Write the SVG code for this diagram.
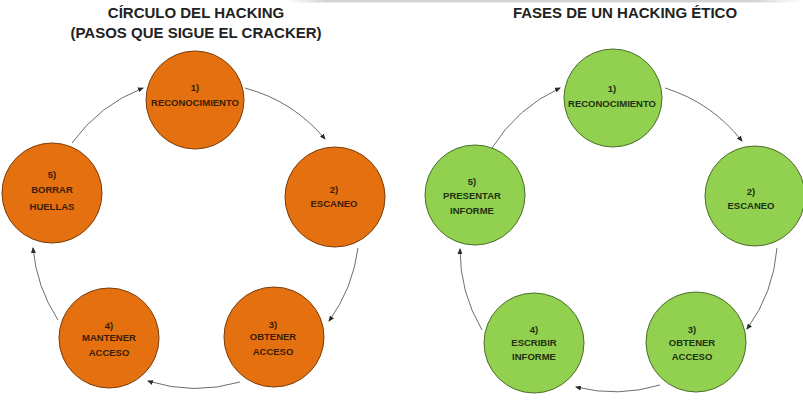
<svg xmlns="http://www.w3.org/2000/svg" width="803" height="409" viewBox="0 0 803 409">
  <defs>
    <marker id="arrow" markerUnits="userSpaceOnUse" markerWidth="6" markerHeight="5" refX="5" refY="2.5" orient="auto">
      <path d="M0,0 L6,2.5 L0,5 z" fill="#2b2b2b"/>
    </marker>
    <linearGradient id="topband" x1="0" y1="0" x2="1" y2="0">
      <stop offset="0" stop-color="#d4d4d4" stop-opacity="0"/>
      <stop offset="0.08" stop-color="#d4d4d4"/>
      <stop offset="0.9" stop-color="#d4d4d4"/>
      <stop offset="1" stop-color="#d4d4d4" stop-opacity="0"/>
    </linearGradient>
  </defs>
  <style>
    .title { font-family: "Liberation Sans", Arial, sans-serif; font-weight: bold; font-size: 15px; fill: #222; text-anchor: middle; }
    .lbl { font-family: "Liberation Sans", Arial, sans-serif; font-weight: bold; font-size: 9.5px; text-anchor: middle; }
    .orange circle { fill: #E5700F; stroke: #7a3d0c; stroke-width: 1; }
    .orange text { fill: #3a1c06; }
    .green circle { fill: #92D050; stroke: #4b6e2b; stroke-width: 1; }
    .green text { fill: #1e3110; }
    .conn path { fill: none; stroke: #6e6e6e; stroke-width: 1; marker-end: url(#arrow); }
  </style>

  <rect width="803" height="409" fill="#ffffff"/>
  <rect x="285" y="0" width="518" height="2.5" fill="url(#topband)"/>

  <!-- titles -->
  <text class="title" x="196" y="18">CÍRCULO DEL HACKING</text>
  <text class="title" x="196" y="38">(PASOS QUE SIGUE EL CRACKER)</text>
  <text class="title" x="625" y="18">FASES DE UN HACKING ÉTICO</text>

  <!-- cracker cycle connectors -->
  <g id="connectors-cracker" class="conn">
    <path d="M72,143 A158,158 0 0 1 143,88"/>
    <path d="M245,88 A158,158 0 0 1 325,139"/>
    <path d="M358,248 A158,158 0 0 1 329,321"/>
    <path d="M240,382 A158,158 0 0 1 148,381"/>
    <path d="M58,320 A158,158 0 0 1 33,248"/>
  </g>

  <!-- ethical hacking connectors -->
  <g id="connectors-ethical" class="conn">
    <path d="M492,148 A158,158 0 0 1 560,88"/>
    <path d="M665,88 A158,158 0 0 1 742,141"/>
    <path d="M777,248 A158,158 0 0 1 747,329"/>
    <path d="M660,385 A158,158 0 0 1 576,387"/>
    <path d="M482,330 A158,158 0 0 1 460,249"/>
  </g>

  <!-- cracker cycle nodes -->
  <g id="c1" class="orange">
    <circle cx="195" cy="100" r="49"/>
    <text class="lbl" x="195" y="91">1)</text>
    <text class="lbl" x="195" y="106">RECONOCIMIENTO</text>
  </g>
  <g id="c2" class="orange">
    <circle cx="335" cy="197" r="50"/>
    <text class="lbl" x="334" y="193">2)</text>
    <text class="lbl" x="334" y="207">ESCANEO</text>
  </g>
  <g id="c3" class="orange">
    <circle cx="274" cy="337" r="50"/>
    <text class="lbl" x="273" y="328">3)</text>
    <text class="lbl" x="273" y="340">OBTENER</text>
    <text class="lbl" x="273" y="355">ACCESO</text>
  </g>
  <g id="c4" class="orange">
    <circle cx="109" cy="338" r="50"/>
    <text class="lbl" x="109" y="329">4)</text>
    <text class="lbl" x="109" y="341">MANTENER</text>
    <text class="lbl" x="109" y="356">ACCESO</text>
  </g>
  <g id="c5" class="orange">
    <circle cx="52" cy="193" r="50"/>
    <text class="lbl" x="52" y="178">5)</text>
    <text class="lbl" x="52" y="193">BORRAR</text>
    <text class="lbl" x="52" y="210">HUELLAS</text>
  </g>

  <!-- ethical hacking nodes -->
  <g id="e1" class="green">
    <circle cx="613" cy="98" r="49"/>
    <text class="lbl" x="612" y="92">1)</text>
    <text class="lbl" x="612" y="107">RECONOCIMIENTO</text>
  </g>
  <g id="e2" class="green">
    <circle cx="755" cy="196" r="50"/>
    <text class="lbl" x="751" y="195">2)</text>
    <text class="lbl" x="751" y="209">ESCANEO</text>
  </g>
  <g id="e3" class="green">
    <circle cx="696" cy="342" r="50"/>
    <text class="lbl" x="692" y="333">3)</text>
    <text class="lbl" x="692" y="346">OBTENER</text>
    <text class="lbl" x="692" y="360">ACCESO</text>
  </g>
  <g id="e4" class="green">
    <circle cx="534" cy="343" r="50"/>
    <text class="lbl" x="534" y="333">4)</text>
    <text class="lbl" x="534" y="346">ESCRIBIR</text>
    <text class="lbl" x="534" y="360">INFORME</text>
  </g>
  <g id="e5" class="green">
    <circle cx="475" cy="195" r="50"/>
    <text class="lbl" x="472" y="185">5)</text>
    <text class="lbl" x="472" y="199">PRESENTAR</text>
    <text class="lbl" x="472" y="214">INFORME</text>
  </g>
</svg>
